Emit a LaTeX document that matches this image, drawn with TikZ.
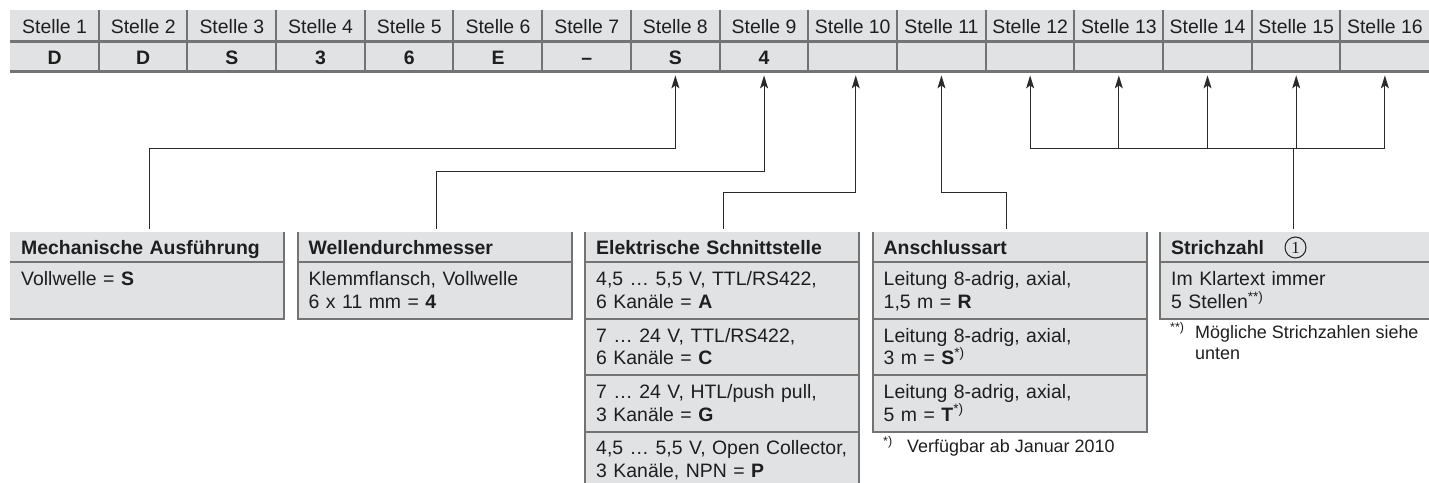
\documentclass[tikz,border=0pt]{standalone}
\usepackage{fontspec}
\setmainfont{Liberation Sans}
\newfontfamily\circfont{Liberation Serif}
\usetikzlibrary{arrows.meta}
\definecolor{cellgray}{HTML}{E1E2E4}
\definecolor{bordgray}{HTML}{737373}
\definecolor{ink}{HTML}{1E1E1E}
\definecolor{linecol}{HTML}{2A2A2A}
\newcommand\rs{\rule[-3bp]{0pt}{19bp}}
\begin{document}
\begin{tikzpicture}[x=1bp,y=-1bp,
  every node/.style={text=ink},
  tcell/.style={fill=cellgray, inner sep=0pt, minimum width=88.69bp, minimum height=31bp,
    anchor=north west, text height=16bp, text depth=1bp, font=\fontsize{19.5}{23}\selectfont},
  vcell/.style={tcell, font=\fontsize{19.5}{23}\selectfont\bfseries},
  bhead/.style={fill=cellgray, inner xsep=11bp, inner ysep=0pt, text width=252bp,
    minimum height=30bp, anchor=north west, align=left, text height=16bp, text depth=1bp,
    font=\fontsize{19.5}{23}\selectfont\bfseries},
  brow/.style={fill=cellgray, inner xsep=11bp, inner ysep=0pt, text width=252bp,
    minimum height=56bp, anchor=north west, align=left, font=\fontsize{19.5}{23}\selectfont},
  bord/.style={draw=bordgray, line width=2bp},
  conn/.style={draw=linecol, line width=1bp},
  arr/.style={conn, -{Stealth[length=13bp,width=8bp,inset=3bp]}, shorten >=3bp},
  fnote/.style={anchor=base west, inner sep=0pt, align=left, font=\fontsize{18}{21}\selectfont}
]
\useasboundingbox (0,0) rectangle (1429,483);
\clip (0,0) rectangle (1429,483);

% ---------- top table ----------
\foreach \i/\v in {1/D,2/D,3/S,4/3,5/6,6/E,7/–,8/S,9/4,10/,11/,12/,13/,14/,15/,16/}{
  \node[tcell] (h\i) at ({10+88.69*(\i-1)},10) {Stelle \i};
  \node[vcell] (v\i) at ({10+88.69*(\i-1)},41) {\v};
}
\foreach \i in {2,...,16} \draw[bord] (h\i.north west) -- (v\i.south west);
\draw[bord, line width=2.5bp] (h1.south west) -- (h16.south east);
\draw[bord, line width=3bp] ([yshift=1bp]v1.south west) -- ([yshift=1bp]v16.south east);

% ---------- boxes ----------
% Mechanische Ausfuehrung
\node[bhead] (mh) at (10,232) {Mechanische Ausführung};
\node[brow] (m1) at (mh.south west) {\rs Vollwelle = \textbf{S}\\\rs};
\draw[bord] (mh.north east) -- (m1.south east) -- (m1.south west);
\draw[bord] (mh.south west) -- (mh.south east);

% Wellendurchmesser
\node[bhead] (wh) at (297.5,232) {Wellendurchmesser};
\node[brow] (w1) at (wh.south west) {\rs Klemmflansch, Vollwelle\\\rs 6 x 11 mm = \textbf{4}};
\draw[bord] (wh.north west) -- (w1.south west) -- (w1.south east) -- (wh.north east);
\draw[bord] (wh.south west) -- (wh.south east);

% Elektrische Schnittstelle
\node[bhead] (eh) at (585,232) {Elektrische Schnittstelle};
\node[brow] (e1) at (eh.south west) {\rs 4,5 … 5,5 V, TTL/RS422,\\\rs 6 Kanäle = \textbf{A}};
\node[brow] (e2) at (e1.south west) {\rs 7 … 24 V, TTL/RS422,\\\rs 6 Kanäle = \textbf{C}};
\node[brow] (e3) at (e2.south west) {\rs 7 … 24 V, HTL/push pull,\\\rs 3 Kanäle = \textbf{G}};
\node[brow] (e4) at (e3.south west) {\rs 4,5 … 5,5 V, Open Collector,\\\rs 3 Kanäle, NPN = \textbf{P}};
\draw[bord] (eh.north west) -- (e4.south west) -- (e4.south east) -- (eh.north east);
\foreach \n in {eh,e1,e2,e3} \draw[bord] (\n.south west) -- (\n.south east);

% Anschlussart
\node[bhead] (ah) at (872.5,232) {Anschlussart};
\node[brow] (a1) at (ah.south west) {\rs Leitung 8-adrig, axial,\\\rs 1,5 m = \textbf{R}};
\node[brow] (a2) at (a1.south west) {\rs Leitung 8-adrig, axial,\\\rs 3 m = \textbf{S}\textsuperscript{*)}};
\node[brow] (a3) at (a2.south west) {\rs Leitung 8-adrig, axial,\\\rs 5 m = \textbf{T}\textsuperscript{*)}};
\draw[bord] (ah.north west) -- (a3.south west) -- (a3.south east) -- (ah.north east);
\foreach \n in {ah,a1,a2} \draw[bord] (\n.south west) -- (\n.south east);

% Strichzahl
\node[bhead] (sh) at (1160,232) {Strichzahl};
\node[brow] (s1) at (sh.south west) {\rs Im Klartext immer\\\rs 5 Stellen\textsuperscript{**)}};
\draw[bord] (sh.north west) -- (s1.south west) -- (s1.south east) -- (sh.north east);
\draw[bord] (sh.south west) -- (sh.south east);
\node[circle, draw=ink, line width=1bp, inner sep=0pt, minimum size=21bp,
      font=\circfont\fontsize{17}{17}\selectfont] (one) at (1295.5,247.5) {1};

% footnotes
\node[fnote] (fn1) at (883,452) {\makebox[24bp][l]{\textsuperscript{*)}}Verfügbar ab Januar 2010};
\node[fnote] (fn2) at (1170,359) {\makebox[25bp][l]{\textsuperscript{**)}}Mögliche Strichzahlen siehe\\\hspace*{25bp}unten};

% ---------- connectors ----------
\coordinate (k1) at (149,149);
\coordinate (k2) at (436,172);
\coordinate (k3) at (723,193);
\coordinate (k4) at (1006,193);
\coordinate (k5) at (1293,149);
\draw[arr, shorten <=3bp] (mh.north -| k1) -- (k1) -| (v8.south);
\draw[arr, shorten <=3bp] (wh.north -| k2) -- (k2) -| (v9.south);
\draw[arr, shorten <=3bp] (eh.north -| k3) -- (k3) -| ([xshift=3bp]v10.south);
\draw[arr, shorten <=3bp] (ah.north -| k4) -- (k4) -| (v11.south);
\draw[conn, shorten <=3bp] (sh.north -| k5) -- (k5);
\draw[conn] (k5 -| v12.south) -- (k5 -| v16.south);
\foreach \i in {12,...,16} \draw[arr] (k5 -| v\i.south) -- (v\i.south);
\end{tikzpicture}
\end{document}
